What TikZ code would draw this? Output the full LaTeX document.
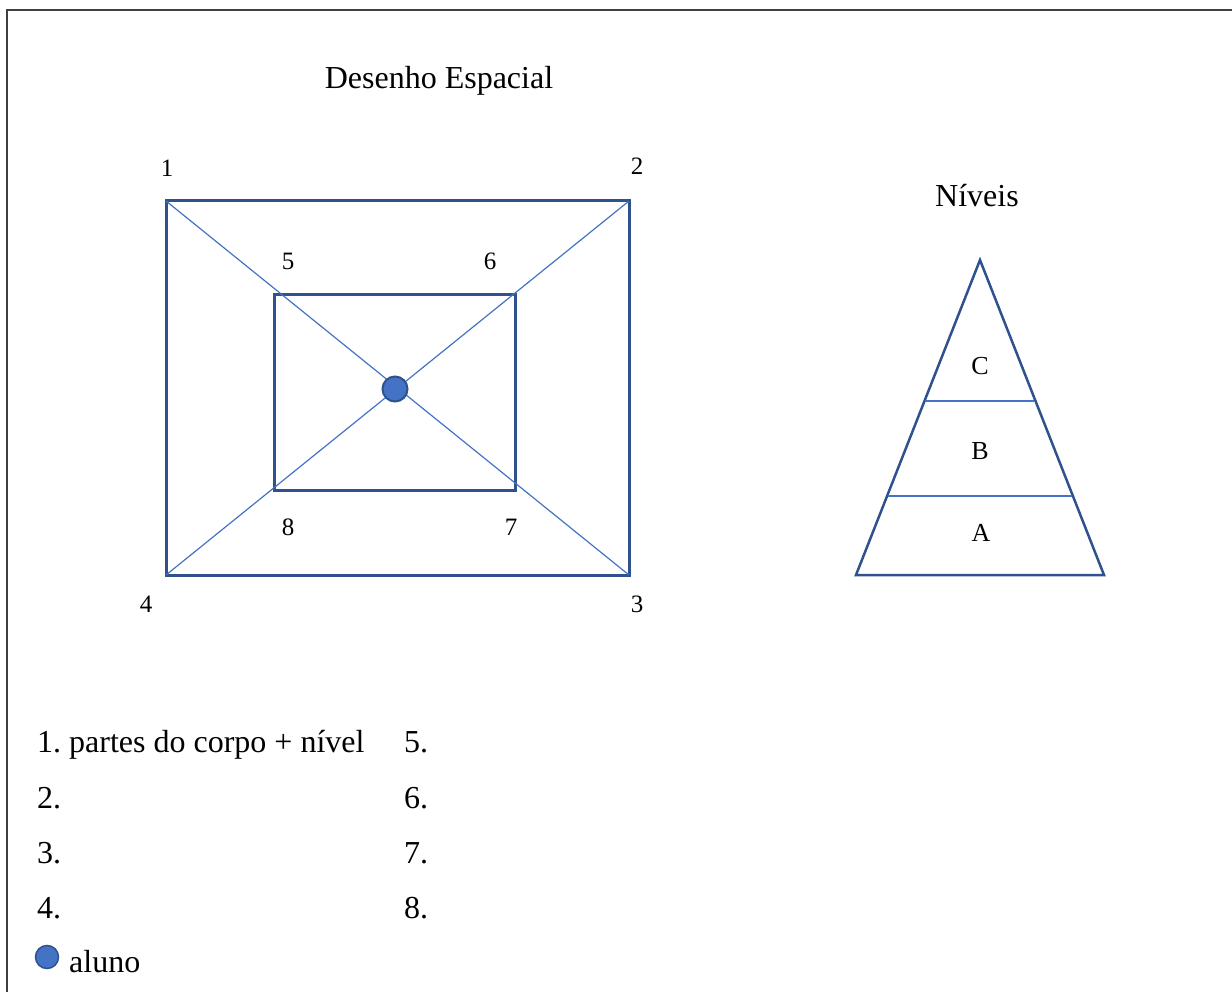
\documentclass[tikz,border=0pt]{standalone}
\usepackage{fontspec}
\setmainfont{Liberation Serif}
\usetikzlibrary{positioning,calc}
\definecolor{FrameInk}{HTML}{404040}
\definecolor{RoomBlue}{HTML}{2F528F}
\definecolor{LineBlue}{HTML}{4472C4}
\frenchspacing

\begin{document}
\begin{tikzpicture}[
 x=1pt,y=-1pt,
 font=\fontsize{32}{38}\selectfont,
 roomline/.style={draw=RoomBlue,line width=3pt},
 thinline/.style={draw=LineBlue,line width=1.2pt},
 cornerlabel/.style={font=\fontsize{25}{30}\selectfont,inner sep=0pt},
 levellabel/.style={font=\fontsize{26}{31}\selectfont,inner sep=0pt},
 listitem/.style={anchor=west,inner sep=0pt,text height=24pt,text depth=3pt},
 student/.style={circle,fill=LineBlue,draw=RoomBlue,line width=2pt,
   minimum size=25pt,inner sep=0pt}
]
 \useasboundingbox (0,0) rectangle (1232,992);
 \draw[FrameInk,line width=2pt] (1232,10) -- (7,10) -- (7,992);
 \node (title) at (439,81) {Desenho Espacial};
 % room corners
 \coordinate (c1) at (166,201);
 \coordinate (c2) at (629,201);
 \coordinate (c3) at (629,575);
 \coordinate (c4) at (166,575);
 \draw[roomline] (c1) rectangle (c3);
 \draw[roomline] (274,295) rectangle (515,490);
 \draw[thinline] (c1) -- (c3);
 \draw[thinline] (c2) -- (c4);
 \node[student] (aluno) at (395,389) {};
 \node[cornerlabel] (n1) at (167,168) {1};
 \node[cornerlabel] (n2) at (637,166) {2};
 \node[cornerlabel] (n3) at (637,604) {3};
 \node[cornerlabel] (n4) at (146,604) {4};
 \node[cornerlabel] (n5) at (288,261) {5};
 \node[cornerlabel] (n6) at (490,261) {6};
 \node[cornerlabel] (n7) at (511,527) {7};
 \node[cornerlabel] (n8) at (288,527) {8};
 % levels
 \node (niveis) at (977,196) {Níveis};
 \coordinate (top) at (980,260);
 \coordinate (bl) at (856,575);
 \coordinate (br) at (1104,575);
 \draw[roomline,line width=2.5pt,line join=miter] (top) -- (br) -- (bl) -- cycle;
 \draw[thinline] (925,401) -- (1034,401);
 \draw[thinline] (888,496) -- (1072,496);
 \node[levellabel] (lvC) at (980,366) {C};
 \node[levellabel] (lvB) at (980,451) {B};
 \node[levellabel] (lvA) at (981,533) {A};
 % legend
 \node[listitem] (i1) at (37,742) {1. partes do corpo + nível};
 \node[listitem] (i2) at (37,798) {2.};
 \node[listitem] (i3) at (37,853) {3.};
 \node[listitem] (i4) at (37,908) {4.};
 \node[listitem] (i5) at (404,742) {5.};
 \node[listitem] (i6) at (404,798) {6.};
 \node[listitem] (i7) at (404,853) {7.};
 \node[listitem] (i8) at (404,908) {8.};
 \node[student,minimum size=23pt,line width=1.5pt] (dot) at (47,957) {};
 \node[listitem] (alu) at (69,962) {aluno};
\end{tikzpicture}
\end{document}
